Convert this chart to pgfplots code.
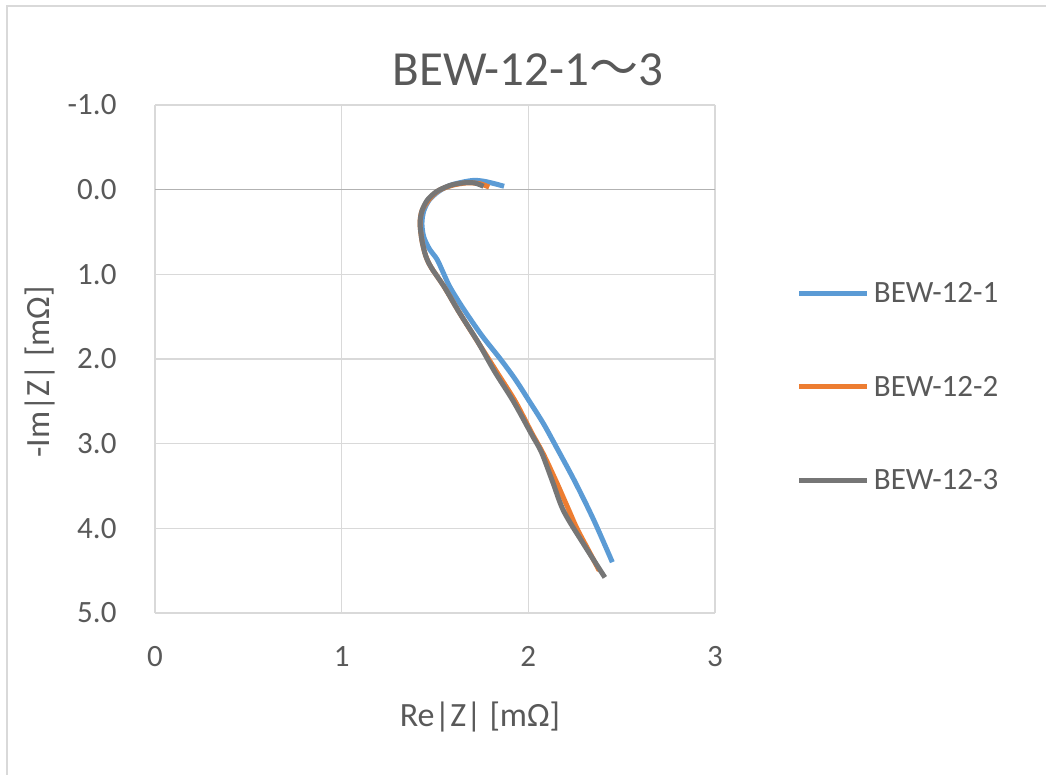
\documentclass[border=0pt]{standalone}
\usepackage{pgfplots}
\pgfplotsset{compat=1.18}
\usepackage{fontspec}
\setmainfont{Carlito}
\newfontfamily\cjk{Noto Sans CJK JP}
\definecolor{cblue}{HTML}{5B9BD5}
\definecolor{corange}{HTML}{ED7D31}
\definecolor{cgray}{HTML}{767676}
\definecolor{txt}{HTML}{595959}
\definecolor{grd}{HTML}{D9D9D9}

\pgfplotstableread{
x y
1.87 -0.04
1.82 -0.07
1.76 -0.10
1.71 -0.11
1.65 -0.09
1.58 -0.05
1.52 0.02
1.47 0.12
1.44 0.25
1.43 0.40
1.44 0.56
1.47 0.70
1.51 0.82
1.54 0.96
1.58 1.15
1.65 1.40
1.75 1.72
1.85 2.00
1.93 2.24
2.00 2.48
2.08 2.76
2.15 3.04
2.25 3.45
2.35 3.90
2.45 4.40
}\blue

\pgfplotstableread{
x y
1.79 -0.03
1.74 -0.07
1.67 -0.08
1.59 -0.05
1.52 0.01
1.47 0.11
1.43 0.25
1.42 0.40
1.43 0.60
1.45 0.78
1.48 0.92
1.55 1.15
1.63 1.45
1.73 1.80
1.83 2.15
1.93 2.50
2.02 2.88
2.08 3.12
2.15 3.45
2.21 3.75
2.26 4.00
2.32 4.25
2.38 4.50
}\orange

\pgfplotstableread{
x y
1.76 -0.04
1.71 -0.08
1.65 -0.08
1.58 -0.05
1.51 0.02
1.46 0.12
1.43 0.25
1.42 0.40
1.43 0.60
1.45 0.78
1.48 0.92
1.55 1.15
1.63 1.45
1.73 1.80
1.82 2.15
1.92 2.50
2.02 2.90
2.07 3.10
2.13 3.45
2.19 3.80
2.30 4.20
2.41 4.58
}\gray

\begin{document}
\begin{tikzpicture}[x=1bp,y=1bp]
\useasboundingbox (0,0) rectangle (1046,775);
\draw[grd, line width=1.2bp] (7,0) -- (7,769) -- (1046,769);
\begin{axis}[
  at={(155bp,162bp)}, anchor=south west,
  scale only axis, width=560bp, height=508bp,
  xmin=0, xmax=3, ymin=-1, ymax=5, y dir=reverse,
  xtick={0,1,2,3}, ytick={-1,0,1,2,3,4,5},
  grid=major, grid style={grd, line width=1.2bp},
  axis line style={draw=none},
  major tick length=0pt,
  extra y ticks={0}, extra y tick labels={},
  extra y tick style={grid style={color=black!30, line width=1.4bp}},
  /pgf/number format/assume math mode=true,
  ticklabel style={font=\fontsize{31bp}{37bp}\selectfont, text=txt},
  yticklabel style={/pgf/number format/fixed, /pgf/number format/precision=1, /pgf/number format/fixed zerofill, xshift=-35bp},
  xticklabel style={yshift=-30bp},
  legend style={at={(axis description cs:1.146,0.445)}, anchor=west, draw=none, fill=none,
    font=\fontsize{31bp}{37bp}\selectfont, text=txt, row sep=64bp, inner sep=0pt,
    nodes={inner sep=4bp}},
  legend cell align=left,
  legend image code/.code={\draw[#1, line width=5bp] (0bp,0bp) -- (68bp,0bp);},
  clip=false,
]
\addplot[cblue, line width=5bp, smooth, tension=0.5] table {\blue};
\addlegendentry{BEW-12-1}
\addplot[corange, line width=5bp, smooth, tension=0.5] table {\orange};
\addlegendentry{BEW-12-2}
\addplot[cgray, line width=5bp, smooth, tension=0.5] table {\gray};
\addlegendentry{BEW-12-3}
\end{axis}
\node[text=txt, font=\fontsize{49bp}{58bp}\selectfont] at (528,775-70) {BEW-12-1{\cjk ～}3};
\node[text=txt, font=\fontsize{34bp}{40bp}\selectfont] at (480,775-717) {Re|Z| [mΩ]};
\node[text=txt, font=\fontsize{34bp}{40bp}\selectfont, rotate=90] at (40,775-372) {-Im|Z| [mΩ]};
\end{tikzpicture}
\end{document}
